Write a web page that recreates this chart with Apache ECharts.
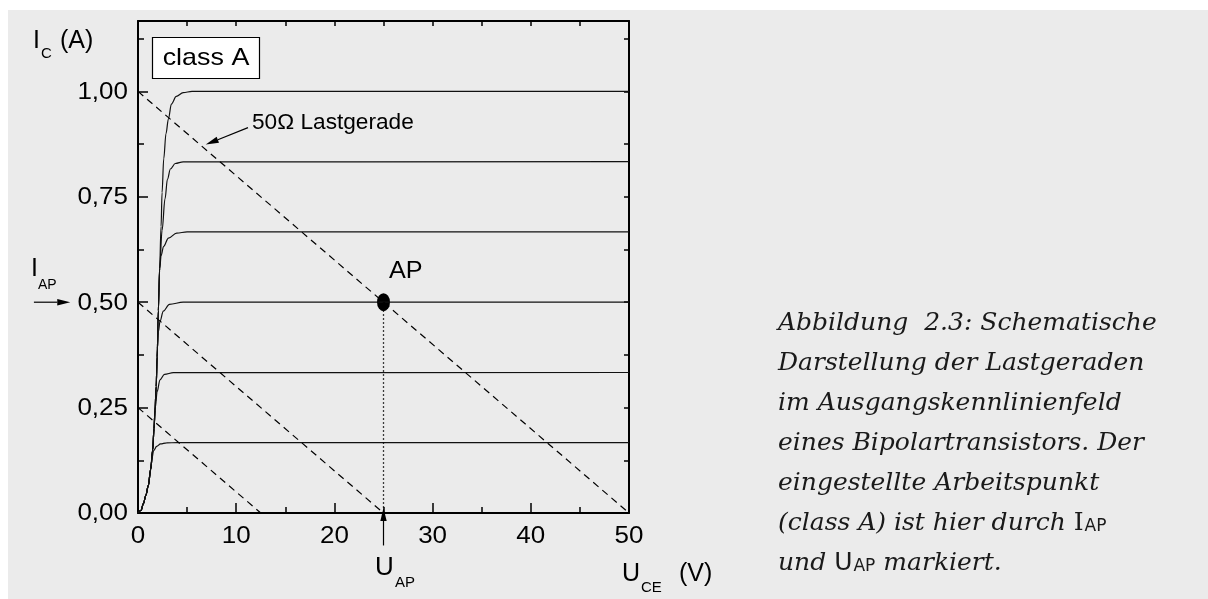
<!DOCTYPE html>
<html>
<head>
<meta charset="utf-8">
<script src="https://cdn.jsdelivr.net/npm/echarts@6/dist/echarts.min.js"></script>
<style>
  html, body { margin: 0; padding: 0; background: #fff; }
  #panel { position: absolute; left: 8px; top: 10px; width: 1200px; height: 589px; background: #ebebeb; }
  #chart { position: absolute; left: 0; top: 0; width: 1208px; height: 599px; }
</style>
</head>
<body>
<div id="panel"></div>
<div id="chart"></div>
<script>
// Ausgangskennlinien (U_CE in V, I_C in A)
const curve1 = [[0, 0], [0.3, 0.006], [0.55, 0.022], [0.8, 0.042], [1.05, 0.065], [1.25, 0.097], [1.4, 0.128], [1.6, 0.148], [1.9, 0.158], [2.3, 0.164], [2.9, 0.1665], [4, 0.1667], [50, 0.1667]]
const curve2 = [[0, 0], [0.3, 0.006], [0.55, 0.022], [0.8, 0.042], [1.05, 0.065], [1.3, 0.105], [1.5, 0.15], [1.63, 0.2], [1.76, 0.25], [1.95, 0.288], [2.24, 0.316], [2.7, 0.329], [3.6, 0.333], [50, 0.3333]]
const curve3 = [[0, 0], [0.3, 0.006], [0.55, 0.022], [0.8, 0.042], [1.05, 0.065], [1.3, 0.105], [1.5, 0.15], [1.63, 0.2], [1.73, 0.244], [1.85, 0.3], [1.97, 0.39], [2.08, 0.43], [2.24, 0.455], [2.58, 0.479], [3.2, 0.495], [4.6, 0.5], [50, 0.5]]
const curve4 = [[0, 0], [0.3, 0.006], [0.55, 0.022], [0.8, 0.042], [1.05, 0.065], [1.3, 0.105], [1.5, 0.15], [1.63, 0.2], [1.73, 0.244], [1.85, 0.3], [1.95, 0.37], [2.07, 0.48], [2.2, 0.575], [2.35, 0.61], [2.6, 0.632], [3.1, 0.652], [3.94, 0.664], [5, 0.6667], [50, 0.6667]]
const curve5 = [[0, 0], [0.3, 0.006], [0.55, 0.022], [0.8, 0.042], [1.05, 0.065], [1.3, 0.105], [1.5, 0.15], [1.63, 0.2], [1.73, 0.244], [1.85, 0.3], [1.95, 0.37], [2.07, 0.48], [2.2, 0.58], [2.45, 0.67], [2.75, 0.745], [3.0, 0.792], [3.3, 0.816], [3.8, 0.829], [4.6, 0.833], [50, 0.8333]]
const curve6 = [[0, 0], [0.3, 0.006], [0.55, 0.022], [0.8, 0.042], [1.05, 0.065], [1.3, 0.105], [1.5, 0.15], [1.63, 0.2], [1.73, 0.244], [1.85, 0.3], [1.95, 0.37], [2.07, 0.48], [2.2, 0.58], [2.35, 0.68], [2.45, 0.76], [2.62, 0.84], [2.85, 0.9], [3.1, 0.935], [3.4, 0.97], [3.9, 0.988], [4.6, 0.997], [5.5, 1.0], [50, 1.0]]
const curves = [curve1, curve2, curve3, curve4, curve5, curve6]

// Lastgeraden (gestrichelt)
const loadLine50 = [[0, 1.0], [50, 0]]
const loadLineMid = [[0, 0.5], [25, 0]]
const loadLineLow = [[0, 0.25], [12.5, 0]]

// Arbeitspunkt
const apPoint = [[25, 0.5]]
const apDrop = [[25, 0.5], [25, 0.012]]

// Pfeile [x1, y1, x2, y2] in Achsenwerten
const arrowSegments = [
  [-10.6, 0.5, -6.9, 0.5],
  [25, -0.077, 25, 0.012],
  [11.2, 0.914, 6.9, 0.874]
]

// Achsenbeschriftung
const xTickValues = [0, 10, 20, 30, 40, 50]
const xTickLabels = ['0', '10', '20', '30', '40', '50']
const yTickValues = [0, 0.25, 0.5, 0.75, 1.0]
const yTickLabels = ['0,00', '0,25', '0,50', '0,75', '1,00']

const captionLines = [
  'Abbildung  2.3: Schematische',
  'Darstellung der Lastgeraden',
  'im Ausgangskennlinienfeld',
  'eines Bipolartransistors. Der',
  'eingestellte Arbeitspunkt',
  '(class A) ist hier durch ',
  'und '
]

const SANS = '"Liberation Sans", Arial, sans-serif'
const SERIF_IT = 'italic 25px "DejaVu Serif"'
const CAP_COLOR = '#1a1a1a'

const chart = echarts.init(document.getElementById('chart'), null, { renderer: 'canvas' })

const axisLine = { show: true, onZero: false, lineStyle: { color: '#000', width: 2 } }

function txt(x, y, text, font, align, sx, fill) {
  return {
    type: 'text', x: x, y: y, silent: true, scaleX: sx || 1,
    style: {
      text: text, font: font, fill: fill || '#000',
      align: align || 'left', verticalAlign: 'middle',
      textAlign: align || 'left', textVerticalAlign: 'middle'
    }
  }
}

const measureCtx = document.createElement('canvas').getContext('2d')
function textWidth(s, font) {
  measureCtx.font = font
  return measureCtx.measureText(s).width
}

const lineBase = { type: 'line', xAxisIndex: 0, yAxisIndex: 0, symbol: 'none', silent: true, animation: false }

const series = curves.map(c => Object.assign({}, lineBase, {
  data: c,
  smooth: 0.35,
  smoothMonotone: 'x',
  lineStyle: { color: '#111', width: 1.2 }
}))

;[loadLine50, loadLineMid, loadLineLow].forEach(d => {
  series.push(Object.assign({}, lineBase, {
    data: d,
    lineStyle: { color: '#000', width: 1.2, type: [7, 5] }
  }))
})

series.push(Object.assign({}, lineBase, {
  data: apDrop,
  lineStyle: { color: '#000', width: 1.3, type: [1.5, 2.5] }
}))

series.push({
  type: 'scatter', xAxisIndex: 0, yAxisIndex: 0, silent: true, animation: false,
  data: apPoint,
  symbol: 'circle',
  symbolSize: [13, 18],
  itemStyle: { color: '#000', opacity: 1 }
})

series.push({
  type: 'custom', xAxisIndex: 0, yAxisIndex: 0, silent: true, animation: false, clip: false,
  data: arrowSegments,
  encode: { x: [0, 2], y: [1, 3] },
  renderItem(params, api) {
    const a = api.coord([api.value(0), api.value(1)])
    const b = api.coord([api.value(2), api.value(3)])
    const dx = b[0] - a[0]
    const dy = b[1] - a[1]
    const len = Math.hypot(dx, dy)
    const ux = dx / len
    const uy = dy / len
    const hl = 13
    const hw = 3.2
    const base = [b[0] - ux * hl, b[1] - uy * hl]
    return {
      type: 'group',
      children: [
        { type: 'line', shape: { x1: a[0], y1: a[1], x2: base[0], y2: base[1] }, style: { stroke: '#000', lineWidth: 1.2 } },
        { type: 'polygon', shape: { points: [b, [base[0] - uy * hw, base[1] + ux * hw], [base[0] + uy * hw, base[1] - ux * hw]] }, style: { fill: '#000' } }
      ]
    }
  }
})

chart.setOption({
  animation: false,
  backgroundColor: 'transparent',
  grid: { left: 138, right: 579, top: 21, bottom: 86, containLabel: false },
  xAxis: [
    {
      type: 'value', min: 0, max: 50, interval: 10, position: 'bottom',
      axisLine: axisLine,
      axisTick: { inside: true, length: 10, lineStyle: { color: '#000', width: 1.5 } },
      minorTick: { show: true, splitNumber: 2, length: 6, lineStyle: { color: '#000', width: 1.5 } },
      axisLabel: { show: false },
      splitLine: { show: false }
    },
    {
      type: 'value', min: 0, max: 50, interval: 5, position: 'top',
      axisLine: axisLine,
      axisTick: { inside: true, length: 5, lineStyle: { color: '#000', width: 1.5 } },
      axisLabel: { show: false },
      splitLine: { show: false }
    }
  ],
  yAxis: [
    {
      type: 'value', min: 0, max: 1.167, interval: 0.25, position: 'left',
      axisLine: axisLine,
      axisTick: { inside: true, length: 10, lineStyle: { color: '#000', width: 1.5 } },
      axisLabel: { show: false },
      splitLine: { show: false }
    },
    {
      type: 'value', min: 0, max: 1.167, interval: 0.125, position: 'left',
      axisLine: { show: false, onZero: false },
      axisTick: { inside: true, length: 6, lineStyle: { color: '#000', width: 1.5 } },
      axisLabel: { show: false },
      splitLine: { show: false }
    },
    {
      type: 'value', min: 0, max: 1.167, interval: 0.125, position: 'right',
      axisLine: axisLine,
      axisTick: { inside: true, length: 5, lineStyle: { color: '#000', width: 1.5 } },
      axisLabel: { show: false },
      splitLine: { show: false }
    }
  ],
  series: series
})

// Texte: Tick-Beschriftungen über die Achsen-Skala positioniert
const graphics = []
const toPx = v => chart.convertToPixel({ xAxisIndex: 0, yAxisIndex: 0 }, v)
const tickFont = '23px ' + SANS
xTickValues.forEach((v, i) => {
  const p = toPx([v, 0])
  graphics.push(txt(p[0], p[1] + 24, xTickLabels[i], tickFont, 'center', 1.13))
})
yTickValues.forEach((v, i) => {
  const p = toPx([0, v])
  graphics.push(txt(p[0] - 10, p[1] + 1, yTickLabels[i], tickFont, 'right', 1.13))
})

// Bildunterschrift
const capX = 778
const capY0 = 323
const capDy = 40
captionLines.forEach((line, i) => {
  graphics.push(txt(capX, capY0 + i * capDy, line, SERIF_IT, 'left', 1, CAP_COLOR))
})
const monoFont = '25px "DejaVu Serif"'
const uFont = '25px "DejaVu Sans"'
const subFont = '17px "DejaVu Sans"'
const x6 = capX + textWidth(captionLines[5], SERIF_IT)
graphics.push(txt(x6, capY0 + 5 * capDy, 'I', monoFont, 'left', 1, CAP_COLOR))
graphics.push(txt(x6 + textWidth('I', monoFont) + 1, capY0 + 5 * capDy + 4, 'AP', subFont, 'left', 1, CAP_COLOR))
const x7 = capX + textWidth(captionLines[6], SERIF_IT)
graphics.push(txt(x7, capY0 + 6 * capDy, 'U', uFont, 'left', 1, CAP_COLOR))
const x7b = x7 + textWidth('U', uFont) + 1
graphics.push(txt(x7b, capY0 + 6 * capDy + 4, 'AP', subFont, 'left', 1, CAP_COLOR))
const x7c = x7b + textWidth('AP', subFont) + 8
graphics.push(txt(x7c, capY0 + 6 * capDy, 'markiert.', SERIF_IT, 'left', 1, CAP_COLOR))

// Achsentitel und Beschriftungen
graphics.push(txt(33, 41, 'I', '25px ' + SANS))
graphics.push(txt(41, 54, 'C', '15px ' + SANS))
graphics.push(txt(60, 41, '(A)', '25px ' + SANS))
graphics.push(txt(31, 269, 'I', '25px ' + SANS))
graphics.push(txt(38, 285, 'AP', '14px ' + SANS))
graphics.push(txt(375, 568, 'U', '26px ' + SANS))
graphics.push(txt(395, 583, 'AP', '15px ' + SANS))
graphics.push(txt(622, 574, 'U', '25px ' + SANS))
graphics.push(txt(641, 588, 'CE', '15px ' + SANS))
graphics.push(txt(679, 574, '(V)', '25px ' + SANS))
graphics.push(txt(389, 271, 'AP', '24px ' + SANS, 'left', 1.05))
graphics.push(txt(252, 123, '50\u03A9 Lastgerade', '22px ' + SANS, 'left', 1.03))
graphics.push({
  type: 'rect', silent: true,
  shape: { x: 152.5, y: 37.5, width: 107, height: 41 },
  style: { fill: '#fff', stroke: '#000', lineWidth: 1.2 }
})
graphics.push(txt(206, 58, 'class A', '24px ' + SANS, 'center', 1.12))

chart.setOption({ graphic: graphics })
</script>
</body>
</html>
